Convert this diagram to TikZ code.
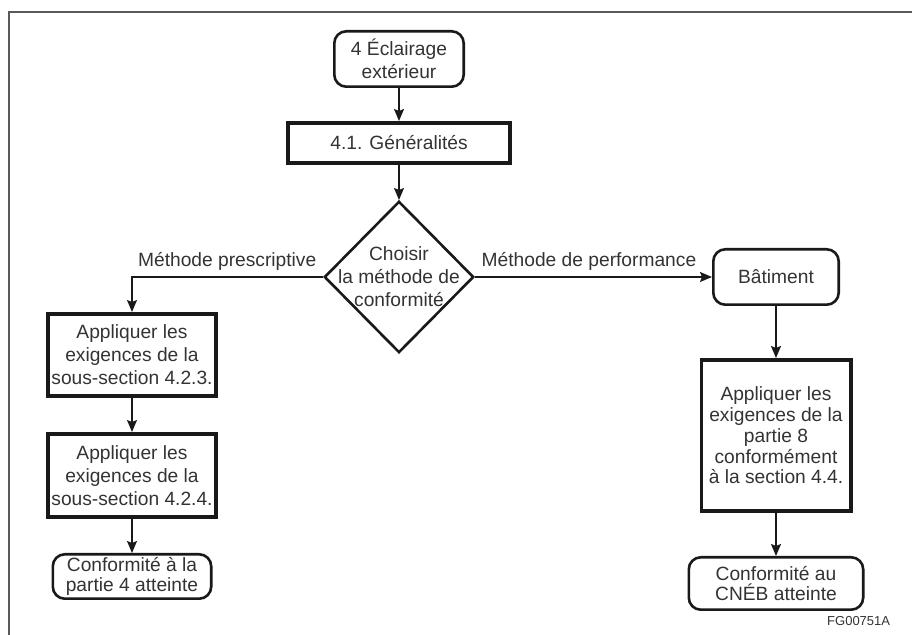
\documentclass[tikz,border=0pt]{standalone}
\usepackage{fontspec}
\setmainfont{Liberation Sans}
\usetikzlibrary{arrows.meta, shapes.geometric, positioning}

\begin{document}
\begin{tikzpicture}[
    x=1pt, y=1pt,
    font=\fontsize{9.6}{11.5}\selectfont,
    text=black!80,
    terminal/.style={rectangle, rounded corners=6pt, draw=black!90, line width=1.3pt, align=center, inner sep=1pt},
    process/.style={rectangle, draw=black!90, line width=1.8pt, align=center, inner sep=1pt},
    decision/.style={diamond, draw=black!90, line width=1.3pt, align=center, aspect=1, inner sep=-5.5pt, minimum width=74.7pt, minimum height=75.7pt},
    arrow/.style={draw=black!90, line width=0.7pt, -{Stealth[length=6pt, width=5pt, inset=1pt]}},
    figid/.style={font=\fontsize{6.5}{7}\selectfont, inner sep=0pt}
]
    \useasboundingbox (0,0) rectangle (456,-317.5);
    % frame
    \draw[line width=1.1pt, black!65] (456,-6) -- (4.5,-6) -- (4.5,-317.5);

    \node[terminal, minimum width=64.7pt, minimum height=27.7pt] (top) at (199.5,-29.5) {4 Éclairage\\extérieur};
    \node[process, below=16.5pt of top, minimum width=111.2pt, minimum height=20.2pt] (gen) {4.1. Généralités};
    \node[decision, below=17.5pt of gen] (choix) {Choisir\\la méthode de\\conformité};

    \node[process, below=17.5pt of choix.west, xshift=-95.5pt, minimum width=84.2pt, minimum height=41.2pt] (presc1) {Appliquer les\\exigences de la\\sous-section 4.2.3.};
    \node[process, below=17pt of presc1, minimum width=84.2pt, minimum height=41.7pt] (presc2) {Appliquer les\\exigences de la\\sous-section 4.2.4.};
    \node[terminal, below=17pt of presc2, minimum width=79.2pt, minimum height=22.2pt, font=\fontsize{9.6}{10}\selectfont] (partie4) {Conformité à la\\partie 4 atteinte};

    \node[terminal, right=118.5pt of choix, minimum width=62.7pt, minimum height=27.7pt] (bat) {Bâtiment};
    \node[process, below=26pt of bat, minimum width=74.7pt, minimum height=75.7pt, font=\fontsize{9.6}{10.4}\selectfont] (perf) {Appliquer les\\exigences de la\\partie 8\\conformément\\à la section 4.4.};
    \node[terminal, below=21.5pt of perf, minimum width=87.2pt, minimum height=26.2pt, font=\fontsize{9.6}{10}\selectfont] (cneb) {Conformité au\\CNÉB atteinte};
    \node[figid, below left=2.5pt and -13pt of cneb.south east] (figcode) {FG00751A};

    \draw[arrow] (top) -- (gen);
    \draw[arrow] (gen) -- (choix);
    \draw[arrow] (choix.west) -| node[above left, pos=0, inner sep=3pt] {Méthode prescriptive} (presc1.north);
    \draw[arrow] (choix.east) -- node[above right, pos=0, inner sep=3pt] {Méthode de performance} (bat.west);

    \draw[arrow] (presc1) -- (presc2);
    \draw[arrow] (presc2) -- (partie4);
    \draw[arrow] (bat) -- (perf);
    \draw[arrow] (perf) -- (cneb);
\end{tikzpicture}
\end{document}
